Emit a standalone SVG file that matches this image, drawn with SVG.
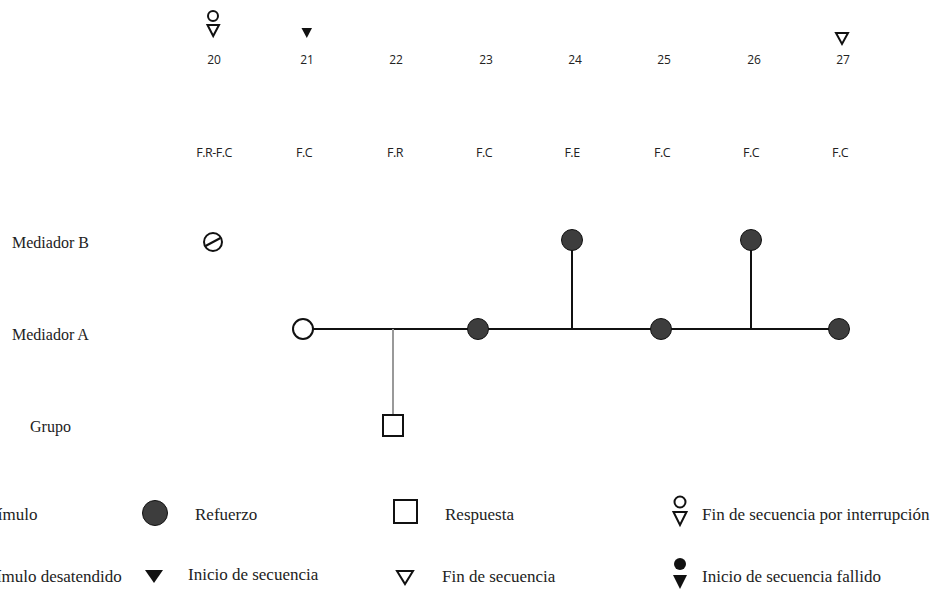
<svg xmlns="http://www.w3.org/2000/svg" width="935" height="593" viewBox="0 0 935 593">
<style>
.num{font-family:"Open Sans","Liberation Sans",sans-serif;font-size:12px;fill:#222;text-anchor:middle}
.ph{font-family:"Open Sans","Liberation Sans",sans-serif;font-size:12.5px;fill:#222;text-anchor:middle;letter-spacing:-0.5px}
.lbl{font-family:"Liberation Serif","Times New Roman",serif;font-size:16px;fill:#222}
.lg{font-family:"Liberation Serif","Times New Roman",serif;font-size:17px;fill:#222}
.rf{fill:#3d3d3d;stroke:#111;stroke-width:1}
.open{fill:#fff;stroke:#111;stroke-width:2}
.ln{stroke:#111;stroke-width:2;fill:none}
.blk{fill:#111}
</style>
<rect width="935" height="593" fill="#fff"/>
<g id="session-numbers">
<text class="num" x="214" y="64">20</text>
<text class="num" x="307" y="64">21</text>
<text class="num" x="396" y="64">22</text>
<text class="num" x="486" y="64">23</text>
<text class="num" x="575" y="64">24</text>
<text class="num" x="664" y="64">25</text>
<text class="num" x="754" y="64">26</text>
<text class="num" x="843" y="64">27</text>
</g>
<g id="session-symbols">
<circle cx="213" cy="16" r="5" class="open" stroke-width="1.8"/>
<polygon points="207.5,25 219,25 213.2,36" class="open" stroke-width="1.8"/>
<polygon points="301.5,28 312,28 306.8,38" class="blk"/>
<polygon points="836,33 848,33 842,44" class="open" stroke-width="1.8"/>
</g>
<g id="phase-labels">
<text class="ph" x="214" y="157">F.R-F.C</text>
<text class="ph" x="304" y="157">F.C</text>
<text class="ph" x="395" y="157">F.R</text>
<text class="ph" x="484" y="157">F.C</text>
<text class="ph" x="572" y="157">F.E</text>
<text class="ph" x="662" y="157">F.C</text>
<text class="ph" x="751" y="157">F.C</text>
<text class="ph" x="840" y="157">F.C</text>
</g>
<g id="row-labels">
<text class="lbl" x="12" y="248">Mediador B</text>
<text class="lbl" x="12" y="340">Mediador A</text>
<text class="lbl" x="30" y="432">Grupo</text>
</g>
<g id="connectors">
<line x1="313" y1="329" x2="839" y2="329" class="ln"/>
<line x1="572" y1="240" x2="572" y2="329" class="ln"/>
<line x1="751" y1="240" x2="751" y2="329" class="ln"/>
<line x1="393" y1="329" x2="393" y2="415" stroke="#999" stroke-width="2"/>
</g>
<g id="mb-20">
<circle cx="213" cy="242" r="9" class="open"/>
<line x1="205.5" y1="246" x2="220.5" y2="238" class="ln"/>
</g>
<g id="ma-21"><circle cx="303" cy="329" r="10" class="open"/></g>
<g id="grupo-22"><rect x="383" y="415" width="20" height="21" class="open"/></g>
<g id="ma-23"><circle cx="478" cy="329" r="10.5" class="rf"/></g>
<g id="mb-24"><circle cx="572" cy="240" r="10.5" class="rf"/></g>
<g id="ma-25"><circle cx="661" cy="329" r="10.5" class="rf"/></g>
<g id="mb-26"><circle cx="751" cy="240" r="10.5" class="rf"/></g>
<g id="ma-27"><circle cx="839" cy="329" r="10.5" class="rf"/></g>
<g id="legend">
<text class="lg" x="-24" y="520">Estímulo</text>
<circle cx="155" cy="513" r="12.5" class="rf" stroke-width="1.5"/>
<text class="lg" x="195" y="520">Refuerzo</text>
<rect x="394" y="500" width="23" height="23" class="open"/>
<text class="lg" x="445" y="520">Respuesta</text>
<circle cx="680" cy="502" r="5.5" class="open" stroke-width="1.8"/>
<polygon points="673.5,512 686.5,512 680,525" class="open" stroke-width="1.8"/>
<text class="lg" x="702" y="520">Fin de secuencia por interrupción</text>
<text class="lg" x="-25" y="582">Estímulo desatendido</text>
<polygon points="145,570 163,570 154,583" class="blk"/>
<text class="lg" x="188" y="580">Inicio de secuencia</text>
<polygon points="397,571 413,571 405,584" class="open" stroke-width="1.8"/>
<text class="lg" x="442" y="582">Fin de secuencia</text>
<circle cx="680" cy="564" r="6" class="blk"/>
<polygon points="673,575 687,575 680,589" class="blk"/>
<text class="lg" x="702" y="582">Inicio de secuencia fallido</text>
</g>
</svg>
